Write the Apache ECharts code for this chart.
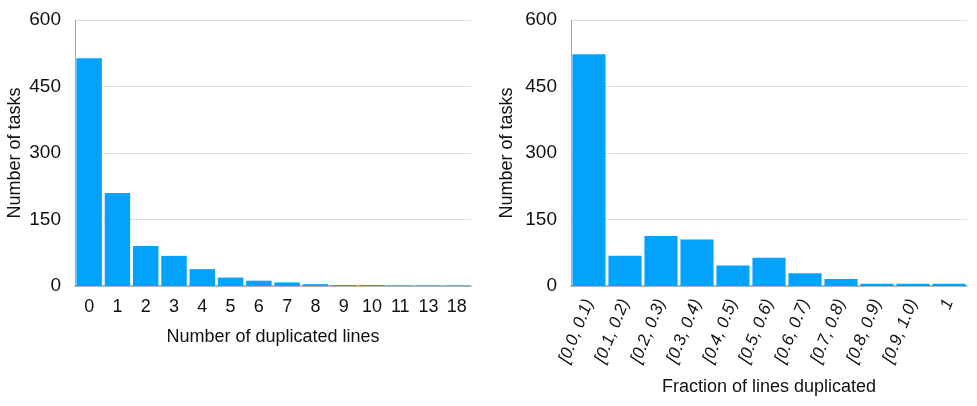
<!doctype html>
<html>
<head>
<meta charset="utf-8">
<title>Duplicated lines</title>
<script src="https://cdn.jsdelivr.net/npm/echarts@6/dist/echarts.min.js"></script>
</head>
<body style="margin:0;background:#fff;">
<div id="container" style="width:977px;height:406px;"></div>
<script type="text/javascript">
    // left chart: number of duplicated lines
    var dupCounts = ['0', '1', '2', '3', '4', '5', '6', '7', '8', '9', '10', '11', '13', '18'];
    var dupTasks = [514, 210, 90, 68, 38, 19, 12, 8, 4, 2, 2, 1, 1, 1];
    // right chart: fraction of lines duplicated
    var fracBins = ['[0.0, 0.1)', '[0.1, 0.2)', '[0.2, 0.3)', '[0.3, 0.4)', '[0.4, 0.5)', '[0.5, 0.6)',
        '[0.6, 0.7)', '[0.7, 0.8)', '[0.8, 0.9)', '[0.9, 1.0)', '1'];
    var fracTasks = [523, 68, 113, 105, 46, 64, 29, 16, 5, 5, 5];
    var yTicks = [0, 150, 300, 450, 600];

    var font = 'Liberation Sans, Arial, Helvetica, sans-serif';
    var barColor = '#02a2fd';

    function yAxis(idx, gap) {
        return {
            type: 'value', gridIndex: idx,
            min: yTicks[0], max: yTicks[yTicks.length - 1], interval: yTicks[1] - yTicks[0],
            name: 'Number of tasks', nameLocation: 'middle', nameGap: gap,
            nameTextStyle: { fontFamily: font, fontSize: 18, color: '#111' },
            axisLine: { show: true, lineStyle: { color: '#a6a6a6', width: 1 } },
            axisTick: { show: false },
            axisLabel: { fontFamily: font, fontSize: 19, color: '#111', margin: 14 },
            splitLine: { lineStyle: { color: '#dcdcdc', width: 1 } }
        };
    }

    var option = {
        animation: false,
        grid: [
            { left: 75, right: 506, top: 20, bottom: 120 },
            { left: 571, right: 10, top: 20, bottom: 120 }
        ],
        xAxis: [
            {
                type: 'category', gridIndex: 0, data: dupCounts,
                name: 'Number of duplicated lines', nameLocation: 'middle', nameGap: 42,
                nameTextStyle: { fontFamily: font, fontSize: 18, color: '#111' },
                axisLine: { lineStyle: { color: '#a6a6a6', width: 1.5 } },
                axisTick: { show: false },
                axisLabel: { fontFamily: font, fontSize: 18, color: '#111', margin: 12, interval: 0 }
            },
            {
                type: 'category', gridIndex: 1, data: fracBins,
                name: 'Fraction of lines duplicated', nameLocation: 'middle', nameGap: 92,
                nameTextStyle: { fontFamily: font, fontSize: 18, color: '#111' },
                axisLine: { lineStyle: { color: '#a6a6a6', width: 1.5 } },
                axisTick: { show: false },
                axisLabel: {
                    fontFamily: font, fontSize: 17, fontStyle: 'italic', color: '#111',
                    margin: 14, interval: 0, rotate: 68
                }
            }
        ],
        yAxis: [yAxis(0, 51), yAxis(1, 55)],
        series: [
            {
                type: 'bar', xAxisIndex: 0, yAxisIndex: 0, data: dupTasks,
                barCategoryGap: '10%',
                itemStyle: { color: barColor }
            },
            {
                type: 'bar', xAxisIndex: 1, yAxisIndex: 1, data: fracTasks,
                barCategoryGap: '8%',
                itemStyle: { color: barColor }
            }
        ]
    };

    var myChart = echarts.init(document.getElementById('container'));
    myChart.setOption(option);
</script>
</body>
</html>
